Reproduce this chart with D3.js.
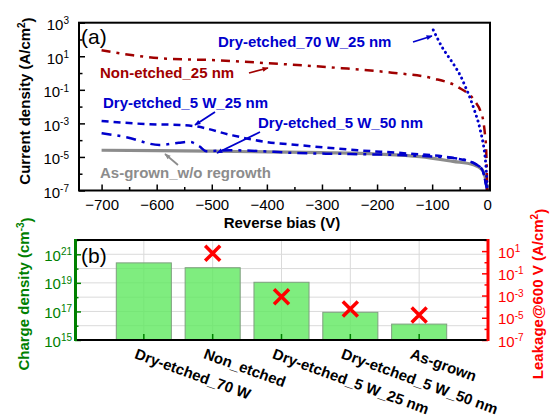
<!DOCTYPE html>
<html>
<head>
<meta charset="utf-8">
<script src="https://cdn.jsdelivr.net/npm/d3@7"></script>
<style>
  body { margin: 0; background: #fff; }
  svg { font-family: "Liberation Sans", Arial, sans-serif; }
</style>
</head>
<body>
<div class="svg-wrap"></div>
<script>
// ---- (a) J-V data, reverse bias (V) vs current density (A/cm2) ----
const biasNonEtched = [-700, -643, -582, -491, -400, -330, -264, -173, -100, -53, -22, -12, -7, -4, -2, -1, 0];
const jNonEtched = [23, 11.5, 7.2, 5.8, 3.9, 2.8, 1.95, 1.05, 0.49, 0.145, 0.02, 5e-3, 1.3e-3, 2e-4, 3e-5, 3e-6, 1e-7];

const bias70W = [-98, -90, -82, -70, -58, -48, -40, -34, -28, -22, -16, -12, -8, -5, -3, -1.5, 0];
const j70W = [370, 110, 35, 9, 2.3, 0.63, 0.16, 0.056, 0.017, 4.5e-3, 1.1e-3, 3.2e-4, 8e-5, 2e-5, 5e-6, 1e-6, 1e-7];

const bias5W25 = [-700, -613, -558, -527, -467, -407, -345, -235, -144, -60, -25, -9, -3, 0];
const j5W25 = [1.4e-3, 8.9e-4, 8.1e-4, 6.5e-4, 2.1e-4, 8.3e-5, 5.2e-5, 2.5e-5, 1.6e-5, 8.5e-6, 4.4e-6, 1.7e-6, 3e-7, 1e-7];

const bias5W50 = [-700, -655, -595, -560, -540, -522, -510, -467, -436, -345, -250, -150, -60, -25, -9, -3, 0];
const j5W50 = [2.6e-4, 1.5e-4, 5.2e-5, 7e-5, 7.9e-5, 4.2e-5, 2.2e-5, 2.5e-5, 2.4e-5, 1.7e-5, 1.5e-5, 1.25e-5, 8.5e-6, 4.4e-6, 1.7e-6, 3e-7, 1e-7];

const biasAsGrown = [-700, -600, -500, -400, -300, -200, -122, -62, -25, -9, -4, -1.5, 0];
const jAsGrown = [2.5e-5, 2.4e-5, 2.2e-5, 2.0e-5, 1.8e-5, 1.5e-5, 1.05e-5, 5.4e-6, 3.4e-6, 1.7e-6, 6.8e-7, 2.5e-7, 1e-7];

const biasTicks = [-700, -600, -500, -400, -300, -200, -100, 0];
const biasMinor = [-650, -550, -450, -350, -250, -150, -50];
const jTicks = [1e-7, 1e-5, 1e-3, 1e-1, 1e1, 1e3];
const jMinor = [1e-6, 1e-4, 1e-2, 1, 1e2];

// ---- (b) bars + leakage ----
const categories = ["Dry-etched_70 W", "Non_etched", "Dry-etched_5 W_25 nm", "Dry-etched_5 W_50 nm", "As-grown"];
const chargeDensity = [2.5e20, 1.15e20, 1.1e19, 8.7e16, 1.3e16];
const leakage600 = [null, 6.3, 7.9e-4, 6.2e-5, 1.8e-5];
const chargeTicks = [1e15, 1e17, 1e19, 1e21];
const chargeMinor = [1e16, 1e18, 1e20, 1e22];
const leakTicks = [1e-7, 1e-5, 1e-3, 1e-1, 1e1];
const leakMinor = [1e-6, 1e-4, 1e-2, 1, 1e2];

const blue = "#0000cc", darkRed = "#a00000", gray = "#8c8c8c", green = "#008000", red = "#ff0000";

const svg = d3.select(".svg-wrap").append("svg")
  .attr("width", 550).attr("height", 416);

function supLabels(sel) {
  sel.each(function (d) {
    const e = Math.round(Math.log10(d));
    const t = d3.select(this);
    t.text(null);
    t.append("tspan").text("10");
    t.append("tspan").attr("dy", "-0.55em").attr("font-size", "10px").text(e);
  });
}

function styleAxis(g, color) {
  g.select(".domain").remove();
  g.selectAll(".tick line").attr("stroke", color).attr("stroke-width", 1.5);
  g.selectAll(".tick text").attr("fill", color).attr("font-size", "15px");
}

// markers for arrows
const defs = svg.append("defs");
[["blue", blue], ["red", darkRed], ["gray", gray]].forEach(([id, c]) => {
  defs.append("marker").attr("id", "arr-" + id)
    .attr("viewBox", "0 0 10 10").attr("refX", 9).attr("refY", 5)
    .attr("markerWidth", 7).attr("markerHeight", 6).attr("orient", "auto")
    .attr("markerUnits", "userSpaceOnUse")
    .append("path").attr("d", "M0,1 L10,5 L0,9 Z").attr("fill", c);
});

// ================= (a) =================
const xA = d3.scaleLinear().domain([-741, 5]).range([79, 490]);
const yA = d3.scaleLog().domain([1e-7, 1e3]).range([190.5, 22.7]);

const gA = svg.append("g");

let ax = gA.append("g").attr("transform", "translate(0,190.5)")
  .call(d3.axisBottom(xA).tickValues(biasTicks).tickSizeInner(-6).tickSizeOuter(0).tickPadding(8).tickFormat(d3.format("d")));
styleAxis(ax, "#000");
ax.selectAll(".tick text").attr("dy", "0.75em");
ax = gA.append("g").attr("transform", "translate(0,190.5)")
  .call(d3.axisBottom(xA).tickValues(biasMinor).tickSizeInner(-3.5).tickSizeOuter(0).tickFormat(""));
styleAxis(ax, "#000");

ax = gA.append("g").attr("transform", "translate(79,0)")
  .call(d3.axisLeft(yA).tickValues(jTicks).tickSizeInner(-6).tickSizeOuter(0).tickPadding(10));
styleAxis(ax, "#000");
ax.selectAll(".tick text").call(supLabels).attr("dy", "0.45em");
ax = gA.append("g").attr("transform", "translate(79,0)")
  .call(d3.axisLeft(yA).tickValues(jMinor).tickSizeInner(-3.5).tickSizeOuter(0).tickFormat(""));
styleAxis(ax, "#000");

const lineA = d3.line().x(d => xA(d[0])).y(d => yA(d[1])).curve(d3.curveMonotoneX);
function curve(bias, j, color, width, dash, cap) {
  gA.append("path")
    .datum(bias.map((v, i) => [v, j[i]]))
    .attr("d", lineA)
    .attr("fill", "none")
    .attr("stroke", color)
    .attr("stroke-width", width)
    .attr("stroke-dasharray", dash)
    .attr("stroke-linecap", cap || "butt");
}
curve(biasAsGrown, jAsGrown, gray, 3.2, null);
curve(bias5W50, j5W50, blue, 2.5, "10 6 3 6");
curve(bias5W25, j5W25, blue, 2.5, "7 5");
curve(biasNonEtched, jNonEtched, darkRed, 2.5, "9 6 3 6");
curve(bias70W, j70W, blue, 3, "0.1 5", "round");

gA.append("rect").attr("x", 79).attr("y", 22.7).attr("width", 411).attr("height", 167.8)
  .attr("fill", "none").attr("stroke", "#000").attr("stroke-width", 2);

function label(g, x, y, txt, color, size) {
  return g.append("text").attr("x", x).attr("y", y).attr("fill", color)
    .attr("font-size", (size || 15) + "px").attr("font-weight", "bold").text(txt);
}
function arrow(g, x1, y1, x2, y2, color, id) {
  g.append("line").attr("x1", x1).attr("y1", y1).attr("x2", x2).attr("y2", y2)
    .attr("stroke", color).attr("stroke-width", 1.8).attr("marker-end", "url(#arr-" + id + ")");
}

gA.append("text").attr("x", 81).attr("y", 44).attr("font-size", "21px").text("(a)");
label(gA, 218, 47, "Dry-etched_70 W_25 nm", blue);
arrow(gA, 413, 42, 432, 36, blue, "blue");
label(gA, 100, 78, "Non-etched_25 nm", darkRed);
arrow(gA, 249, 73, 268, 68, darkRed, "red");
label(gA, 103, 108, "Dry-etched_5 W_25 nm", blue);
arrow(gA, 215, 112, 195, 125, blue, "blue");
label(gA, 258, 128, "Dry-etched_5 W_50 nm", blue);
arrow(gA, 260, 132, 217, 153, blue, "blue");
label(gA, 100, 178, "As-grown_w/o regrowth", gray);
arrow(gA, 178, 165, 165, 154, gray, "gray");

const tY = gA.append("text").attr("transform", "translate(30,101) rotate(-90)")
  .attr("text-anchor", "middle").attr("font-size", "15px").attr("font-weight", "bold");
tY.append("tspan").text("Current density (A/cm");
tY.append("tspan").attr("dy", "-0.5em").attr("font-size", "10px").text("2");
tY.append("tspan").attr("dy", "0.5em").text(")");

label(gA, 282, 228, "Reverse bias (V)", "#000").attr("text-anchor", "middle");

// ================= (b) =================
const xB = d3.scaleLinear().domain([0, 6]).range([75, 488]);
const yL = d3.scaleLog().domain([1e15, 1e22]).range([340, 240]);
const yR = d3.scaleLog().domain([1e-7, 1e2]).range([340, 240]);
const gB = svg.append("g");

// grid
const gridY = d3.range(16, 22).map(e => Math.pow(10, e));
gB.selectAll(".hgrid").data(gridY).enter().append("line")
  .attr("x1", 75).attr("x2", 488).attr("y1", d => yL(d)).attr("y2", d => yL(d))
  .attr("stroke", "#dadada").attr("stroke-width", 1);
gB.selectAll(".vgrid").data(categories).enter().append("line")
  .attr("x1", (d, i) => xB(i + 1)).attr("x2", (d, i) => xB(i + 1))
  .attr("y1", 240).attr("y2", 340)
  .attr("stroke", "#dadada").attr("stroke-width", 1);

// bars
const barW = xB(0.8) - xB(0);
gB.selectAll(".bar").data(chargeDensity).enter().append("rect")
  .attr("x", (d, i) => xB(i + 1) - barW / 2)
  .attr("y", d => yL(d))
  .attr("width", barW)
  .attr("height", d => 340 - yL(d))
  .attr("fill", "#5fe85f").attr("fill-opacity", 0.8)
  .attr("stroke", "#7f9f7f").attr("stroke-width", 1);

// category ticks
gB.selectAll(".ctick").data(categories).enter().append("line")
  .attr("x1", (d, i) => xB(i + 1)).attr("x2", (d, i) => xB(i + 1))
  .attr("y1", 340).attr("y2", 334)
  .attr("stroke", green).attr("stroke-width", 1.5);

// leakage crosses
const xs = 7.5;
leakage600.forEach((v, i) => {
  if (v == null) return;
  const cx = xB(i + 1), cy = yR(v);
  gB.append("path")
    .attr("d", `M${cx - xs},${cy - xs}L${cx + xs},${cy + xs}M${cx - xs},${cy + xs}L${cx + xs},${cy - xs}`)
    .attr("stroke", red).attr("stroke-width", 3.5).attr("fill", "none");
});

// axes
ax = gB.append("g").attr("transform", "translate(75,0)")
  .call(d3.axisLeft(yL).tickValues(chargeTicks).tickSizeInner(-6).tickSizeOuter(0).tickPadding(3));
styleAxis(ax, green);
ax.selectAll(".tick text").call(supLabels).attr("dy", "0.4em");
ax = gB.append("g").attr("transform", "translate(75,0)")
  .call(d3.axisLeft(yL).tickValues(chargeMinor).tickSizeInner(-3.5).tickSizeOuter(0).tickFormat(""));
styleAxis(ax, green);

ax = gB.append("g").attr("transform", "translate(488,0)")
  .call(d3.axisRight(yR).tickValues(leakTicks).tickSizeInner(-6).tickSizeOuter(0).tickPadding(10));
styleAxis(ax, red);
ax.selectAll(".tick text").call(supLabels).attr("dy", "0.4em");
ax = gB.append("g").attr("transform", "translate(488,0)")
  .call(d3.axisRight(yR).tickValues(leakMinor).tickSizeInner(-3.5).tickSizeOuter(0).tickFormat(""));
styleAxis(ax, red);

// frame
gB.append("line").attr("x1", 75).attr("x2", 488).attr("y1", 240).attr("y2", 240).attr("stroke", "#000").attr("stroke-width", 2);
gB.append("line").attr("x1", 75).attr("x2", 488).attr("y1", 340).attr("y2", 340).attr("stroke", "#000").attr("stroke-width", 2);
gB.append("line").attr("x1", 75.5).attr("x2", 75.5).attr("y1", 239).attr("y2", 341).attr("stroke", green).attr("stroke-width", 3);
gB.append("line").attr("x1", 488).attr("x2", 488).attr("y1", 239).attr("y2", 341).attr("stroke", red).attr("stroke-width", 3);

gB.append("text").attr("x", 81).attr("y", 263).attr("font-size", "21px").text("(b)");

// category labels
gB.selectAll(".clabel").data(categories).enter().append("text")
  .attr("transform", (d, i) => `translate(${xB(i + 1) - 10},358) rotate(20)`)
  .attr("font-size", "15px").attr("font-weight", "bold").text(d => d);

const tL = gB.append("text").attr("transform", "translate(29,294) rotate(-90)")
  .attr("text-anchor", "middle").attr("font-size", "15px").attr("font-weight", "bold").attr("fill", green);
tL.append("tspan").text("Charge density (cm");
tL.append("tspan").attr("dy", "-0.5em").attr("font-size", "10px").text("-3");
tL.append("tspan").attr("dy", "0.5em").text(")");

const tR = gB.append("text").attr("transform", "translate(543,294) rotate(-90)")
  .attr("text-anchor", "middle").attr("font-size", "15px").attr("font-weight", "bold").attr("fill", red);
tR.append("tspan").text("Leakage@600 V (A/cm");
tR.append("tspan").attr("dy", "-0.5em").attr("font-size", "10px").text("2");
tR.append("tspan").attr("dy", "0.5em").text(")");
</script>
</body>
</html>
